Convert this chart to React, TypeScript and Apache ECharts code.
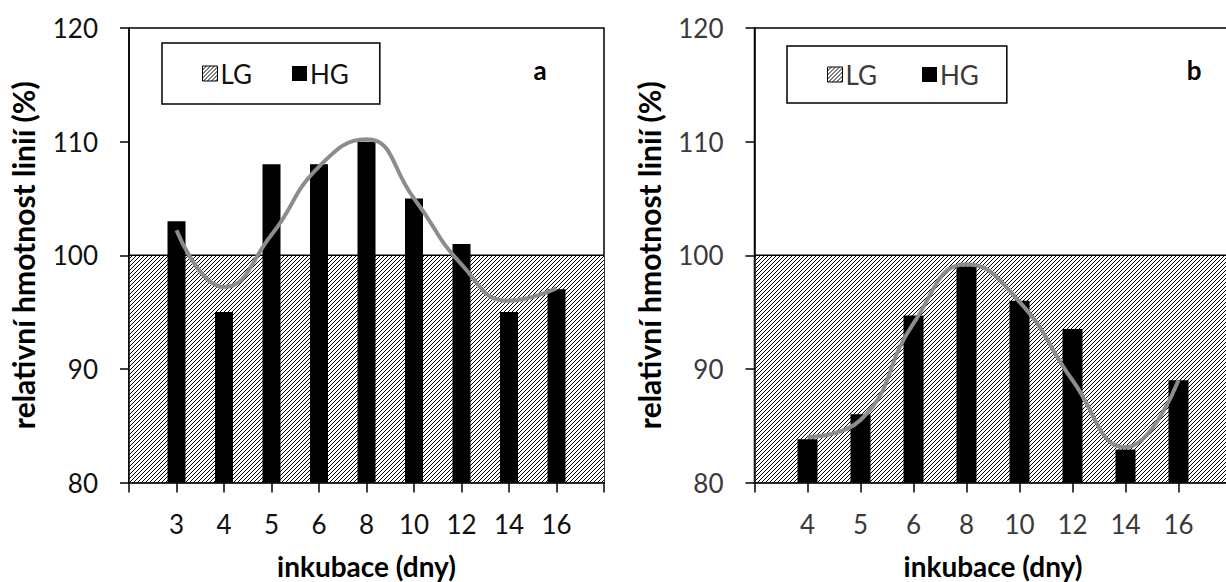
import React, { useEffect, useRef } from 'react';
import * as echarts from 'echarts';

// ---- data ----
const yMin = 80;
const yMax = 120;
const yStep = 10;
const lgLevel = 100;

const daysA = ['3', '4', '5', '6', '8', '10', '12', '14', '16'];
const hgA = [103, 95, 108, 108, 110, 105, 101, 95, 97];
const trendA = [102.2, 97.2, 101.8, 107.8, 110.2, 105.0, 99.2, 96.0, 97.1];

const daysB = ['4', '5', '6', '8', '10', '12', '14', '16'];
const hgB = [83.8, 86.0, 94.7, 99.0, 96.0, 93.5, 82.9, 89.0];
const trendB = [84.0, 85.5, 94.0, 99.2, 95.9, 89.0, 83.1, 89.0];

const yTitle = 'relativní hmotnost linií (%)';
const xTitle = 'inkubace (dny)';

function makeHatch(s: number) {
  const c = document.createElement('canvas');
  c.width = s;
  c.height = s;
  const ctx = c.getContext('2d') as CanvasRenderingContext2D;
  ctx.fillStyle = '#fff';
  ctx.fillRect(0, 0, s, s);
  ctx.strokeStyle = '#000';
  ctx.lineWidth = 1;
  ctx.beginPath();
  ctx.moveTo(-1, s + 1);
  ctx.lineTo(s + 1, -1);
  ctx.moveTo(-1, 1);
  ctx.lineTo(1, -1);
  ctx.moveTo(s - 1, s + 1);
  ctx.lineTo(s + 1, s - 1);
  ctx.stroke();
  return { image: c, repeat: 'repeat', imageWidth: s, imageHeight: s } as any;
}

const FONT = 'Lato, "Open Sans", sans-serif';

export default function App() {
  const ref = useRef<HTMLDivElement>(null);

  useEffect(() => {
    if (!ref.current) return;
    const chart = echarts.init(ref.current, undefined, { renderer: 'svg' });
    const hatch = makeHatch(4);

    const panels = [
      {
        days: daysA, hg: hgA, trend: trendA,
        left: 129, width: 475, barWidth: 18, color: '#111',
        letter: 'a', letterX: 540,
        legendLeft: 162, legendTop: 43, legendPad: [15.5, 31, 15.5, 40], legendGap: 40,
      },
      {
        days: daysB, hg: hgB, trend: trendB,
        left: 754.5, width: 477, barWidth: 20, color: '#3a3a3a',
        letter: 'b', letterX: 1194,
        legendLeft: 787, legendTop: 46, legendPad: [13.5, 28, 13.5, 40], legendGap: 45,
      },
    ];

    const grid: any[] = [];
    const xAxis: any[] = [];
    const yAxis: any[] = [];
    const series: any[] = [];
    const legend: any[] = [];
    const graphic: any[] = [];

    panels.forEach((p, i) => {
      const xMax = p.days.length + 1;
      grid.push({
        left: p.left, top: 28, width: p.width, height: 454.5,
        containLabel: false, outerBoundsMode: 'none',
        show: true, borderColor: '#000', borderWidth: 1.5, backgroundColor: 'transparent',
      });
      xAxis.push({
        type: 'value', gridIndex: i, min: 0, max: xMax, interval: 1, z: 5,
        axisLine: { show: true, lineStyle: { color: '#000', width: 1.5 } },
        axisTick: { show: true, inside: false, length: 10, lineStyle: { color: '#000', width: 1.5 } },
        splitLine: { show: false },
        axisLabel: {
          margin: 26, fontSize: 26, lineHeight: 30, color: p.color, fontFamily: FONT,
          showMinLabel: true, showMaxLabel: true,
          formatter: (v: number) => (v >= 1 && v <= p.days.length ? p.days[v - 1] : ''),
        },
        name: xTitle, nameLocation: 'middle', nameGap: 69,
        nameTextStyle: { fontSize: 28, fontWeight: 'bold', color: '#000', fontFamily: FONT, lineHeight: 28 },
      });
      yAxis.push({
        type: 'value', gridIndex: i, min: yMin, max: yMax, interval: yStep, z: 5,
        axisLine: { show: true, lineStyle: { color: '#000', width: 1.5 } },
        axisTick: { show: true, inside: false, length: 9, lineStyle: { color: '#000', width: 1.5 } },
        splitLine: { show: false },
        axisLabel: { margin: 31, fontSize: 26, color: p.color, fontFamily: FONT },
        name: yTitle, nameLocation: 'middle', nameGap: 89, nameRotate: 90,
        nameTextStyle: { fontSize: 30, fontWeight: 'bold', color: '#000', fontFamily: FONT, lineHeight: 34 },
      });
      series.push({
        name: 'LG', type: 'line', xAxisIndex: i, yAxisIndex: i,
        data: [[0, lgLevel], [xMax, lgLevel]],
        symbol: 'none', lineStyle: { color: '#000', width: 1.5 },
        itemStyle: { color: '#000' },
        areaStyle: { color: hatch, opacity: 1, origin: 'start' },
        z: 1,
      });
      series.push({
        name: 'HG', type: 'bar', xAxisIndex: i, yAxisIndex: i,
        data: p.hg.map((v, k) => [k + 1, v]),
        barWidth: p.barWidth, itemStyle: { color: '#000' }, z: 2,
      });
      series.push({
        name: 'trend', type: 'line', xAxisIndex: i, yAxisIndex: i,
        data: p.trend.map((v, k) => [k + 1, v]),
        smooth: true, symbol: 'none',
        lineStyle: { color: '#8c8c8c', width: 4 }, z: 3,
      });
      legend.push({
        left: p.legendLeft, top: p.legendTop, orient: 'horizontal',
        padding: p.legendPad, itemGap: p.legendGap, itemWidth: 15, itemHeight: 15,
        borderColor: '#000', borderWidth: 1.5, backgroundColor: '#fff',
        selectedMode: false,
        textStyle: { fontSize: 26, color: p.color, fontFamily: FONT, lineHeight: 30, padding: [0, 0, 0, -2] },
        data: [
          { name: 'LG', icon: 'rect', itemStyle: { color: hatch, borderColor: '#000', borderWidth: 1 } },
          { name: 'HG', icon: 'rect', itemStyle: { color: '#000', borderWidth: 0 } },
        ],
      });
      graphic.push({
        type: 'text', x: p.letterX, y: 70, z: 10,
        style: { text: p.letter, font: `bold 26px ${FONT}`, fill: '#000', align: 'center', verticalAlign: 'middle' },
      });
    });

    chart.setOption({
      animation: false,
      backgroundColor: '#fff',
      grid, xAxis, yAxis, series, legend, graphic,
    });

    return () => chart.dispose();
  }, []);

  return (
    <div
      ref={ref}
      style={{ position: 'fixed', left: 0, top: 0, width: 1226, height: 582, overflow: 'hidden' }}
    />
  );
}
